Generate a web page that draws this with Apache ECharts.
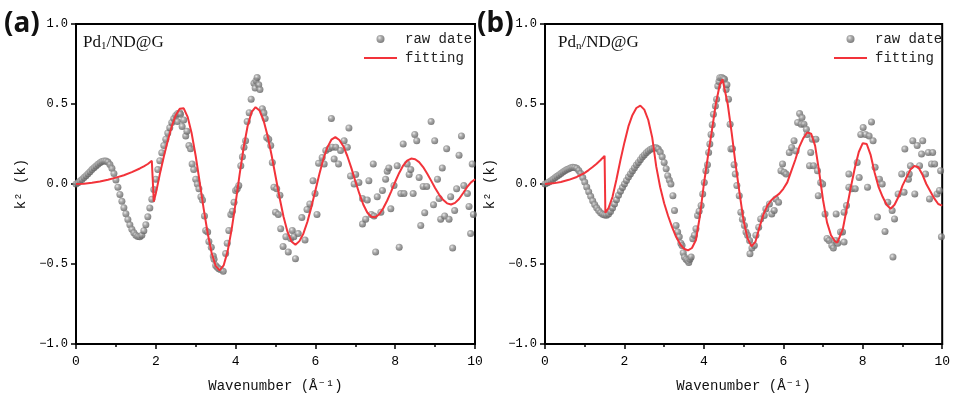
<!DOCTYPE html>
<html>
<head>
<meta charset="utf-8">
<script src="https://cdn.jsdelivr.net/npm/echarts@6/dist/echarts.min.js"></script>
<style>
  html, body { margin: 0; padding: 0; background: #fff; }
  #chart { width: 953px; height: 398px; }
</style>
</head>
<body>
<div id="chart"></div>
<script>
// raw k²χ(k) points, panel (a) Pd1/ND@G  [k, value]
const rawA = [
  [0.00,0.000],[0.05,0.008],[0.10,0.018],[0.15,0.028],[0.20,0.040],[0.25,0.052],[0.30,0.064],[0.35,0.077],
  [0.40,0.090],[0.45,0.102],[0.50,0.113],[0.55,0.124],[0.60,0.133],[0.65,0.140],[0.70,0.144],[0.75,0.143],
  [0.80,0.137],[0.85,0.122],[0.90,0.098],[0.95,0.065],[1.00,0.025],[1.05,-0.020],[1.10,-0.065],[1.15,-0.108],
  [1.20,-0.148],[1.25,-0.186],[1.30,-0.222],[1.35,-0.255],[1.40,-0.283],[1.45,-0.305],[1.50,-0.320],[1.55,-0.328],
  [1.60,-0.330],[1.65,-0.320],[1.70,-0.292],[1.75,-0.255],[1.80,-0.205],[1.85,-0.150],[1.90,-0.095],[1.95,-0.035],
  [2.00,0.030],[2.05,0.090],[2.10,0.145],[2.15,0.195],[2.20,0.240],[2.25,0.280],[2.30,0.318],[2.35,0.352],
  [2.40,0.385],[2.45,0.410],[2.50,0.428],[2.55,0.440],[2.60,0.445],
  [2.54,0.39],[2.62,0.436],[2.66,0.36],[2.70,0.40],[2.75,0.30],[2.78,0.33],[2.83,0.24],[2.87,0.22],
  [2.91,0.125],[2.95,0.09],[3.00,0.03],[3.04,0.00],[3.08,-0.03],[3.13,-0.08],[3.17,-0.10],[3.22,-0.20],
  [3.25,-0.29],[3.30,-0.30],[3.33,-0.36],[3.39,-0.395],[3.44,-0.45],[3.46,-0.47],[3.50,-0.51],[3.54,-0.52],
  [3.58,-0.53],[3.62,-0.535],[3.69,-0.545],[3.75,-0.435],[3.79,-0.37],[3.83,-0.29],[3.88,-0.19],[3.92,-0.17],
  [3.96,-0.114],[4.00,-0.04],[4.04,-0.03],[4.08,-0.01],[4.13,0.114],[4.17,0.17],[4.21,0.23],[4.25,0.27],
  [4.29,0.39],[4.34,0.446],[4.39,0.53],[4.46,0.63],[4.49,0.60],[4.51,0.645],[4.54,0.665],[4.58,0.62],
  [4.61,0.59],[4.67,0.47],[4.71,0.446],[4.74,0.41],[4.78,0.29],[4.83,0.28],[4.88,0.24],[4.92,0.135],
  [4.96,-0.02],[5.00,-0.176],[5.03,-0.03],[5.07,-0.19],[5.11,-0.07],[5.13,-0.28],[5.19,-0.39],[5.26,-0.33],
  [5.32,-0.425],[5.38,-0.34],[5.42,-0.29],[5.46,-0.33],[5.50,-0.467],[5.57,-0.31],[5.66,-0.21],[5.74,-0.35],
  [5.79,-0.16],[5.86,-0.125],[5.94,0.02],[5.99,-0.06],[6.04,-0.19],[6.08,0.13],[6.17,0.166],[6.22,0.125],
  [6.26,0.21],[6.34,0.22],[6.40,0.41],[6.42,0.23],[6.47,0.156],[6.51,0.23],[6.58,0.125],[6.63,0.21],
  [6.72,0.27],[6.80,0.23],[6.84,0.35],[6.88,0.05],[6.97,0.00],[7.01,0.06],[7.09,0.01],[7.18,-0.09],
  [7.18,-0.25],[7.26,-0.22],[7.30,-0.10],[7.34,0.02],[7.40,-0.19],[7.45,0.125],[7.47,-0.20],[7.51,-0.425],
  [7.55,-0.08],[7.64,-0.176],[7.68,-0.04],[7.76,0.03],[7.80,0.08],[7.84,0.10],[7.89,-0.155],[7.97,-0.01],
  [8.05,0.114],[8.10,-0.395],[8.14,-0.06],[8.20,0.25],[8.22,-0.06],[8.30,0.125],[8.35,0.06],[8.39,0.09],
  [8.45,-0.06],[8.49,0.31],[8.54,0.27],[8.60,0.04],[8.64,-0.26],[8.70,-0.015],[8.74,-0.18],[8.79,-0.015],
  [8.90,0.39],[8.96,-0.13],[8.99,0.27],[9.06,0.03],[9.10,-0.09],[9.14,-0.22],[9.18,0.10],[9.24,-0.20],
  [9.29,0.22],[9.35,-0.22],[9.39,-0.08],[9.44,-0.40],[9.49,-0.166],[9.54,-0.03],[9.60,0.18],[9.66,0.30],
  [9.72,-0.01],[9.81,-0.06],[9.85,-0.14],[9.89,-0.31],[9.93,0.125],[9.96,-0.19]
];

// fitted curve, panel (a)
const fitA = [
  [0,0],[0.2,0.002],[0.4,0.008],[0.6,0.016],[0.8,0.027],[1.0,0.04],[1.2,0.055],[1.4,0.074],[1.6,0.097],
  [1.7,0.11],[1.8,0.125],[1.9,0.145],[1.93,0.15],[1.95,-0.11],[2.0,-0.06],[2.1,0.06],[2.2,0.17],[2.3,0.27],
  [2.4,0.36],[2.5,0.43],[2.6,0.47],[2.65,0.48],[2.7,0.473],[2.8,0.418],[2.9,0.315],[3.0,0.175],[3.1,0.012],
  [3.2,-0.155],[3.3,-0.308],[3.4,-0.431],[3.5,-0.512],[3.6,-0.54],[3.7,-0.509],[3.8,-0.421],[3.9,-0.285],
  [4.0,-0.119],[4.1,0.059],[4.2,0.225],[4.3,0.361],[4.4,0.449],[4.5,0.48],[4.6,0.459],[4.7,0.398],[4.8,0.303],
  [4.9,0.183],[5.0,0.05],[5.1,-0.083],[5.2,-0.203],[5.3,-0.298],[5.4,-0.359],[5.5,-0.38],[5.6,-0.357],
  [5.7,-0.309],[5.8,-0.236],[5.9,-0.143],[6.0,-0.04],[6.1,0.063],[6.2,0.156],[6.3,0.229],[6.4,0.277],
  [6.5,0.293],[6.6,0.275],[6.7,0.236],[6.8,0.175],[6.9,0.101],[7.0,0.019],[7.1,-0.059],[7.2,-0.128],
  [7.3,-0.178],[7.4,-0.205],[7.45,-0.208],[7.5,-0.208],[7.6,-0.189],[7.7,-0.152],[7.8,-0.103],[7.9,-0.046],
  [8.0,0.014],[8.1,0.069],[8.2,0.115],[8.3,0.146],[8.4,0.159],[8.5,0.155],[8.6,0.137],[8.7,0.106],[8.8,0.066],
  [8.9,0.021],[9.0,-0.025],[9.1,-0.066],[9.2,-0.099],[9.3,-0.121],[9.4,-0.128],[9.5,-0.118],[9.6,-0.094],
  [9.7,-0.058],[9.8,-0.02],[9.9,0.01],[10.0,0.03]
];

// raw points, panel (b) Pdn/ND@G
const rawB = [
  [0.00,0.000],[0.05,0.006],[0.10,0.013],[0.15,0.021],[0.20,0.030],[0.25,0.039],[0.30,0.048],[0.35,0.057],
  [0.40,0.066],[0.45,0.075],[0.50,0.083],[0.55,0.090],[0.60,0.096],[0.65,0.101],[0.70,0.104],[0.75,0.103],
  [0.80,0.098],[0.85,0.085],[0.90,0.065],[0.95,0.040],[1.00,0.012],[1.05,-0.018],[1.10,-0.048],[1.15,-0.077],
  [1.20,-0.104],[1.25,-0.128],[1.30,-0.149],[1.35,-0.166],[1.40,-0.180],[1.45,-0.189],[1.50,-0.194],[1.55,-0.195],
  [1.60,-0.188],[1.65,-0.172],[1.70,-0.150],[1.75,-0.125],[1.80,-0.098],[1.85,-0.070],[1.90,-0.045],[1.95,-0.022],
  [2.00,0.000],[2.05,0.022],[2.10,0.043],[2.15,0.063],[2.20,0.082],[2.25,0.100],[2.30,0.118],[2.35,0.135],
  [2.40,0.152],[2.45,0.168],[2.50,0.182],[2.55,0.195],[2.60,0.206],[2.65,0.215],[2.70,0.222],[2.75,0.226],
  [2.80,0.226],[2.85,0.218],[2.90,0.200],[2.95,0.170],[3.00,0.135],
  [3.05,0.095],[3.09,0.052],[3.13,0.025],[3.17,0.00],[3.22,-0.073],[3.26,-0.166],[3.30,-0.26],[3.34,-0.30],
  [3.38,-0.33],[3.42,-0.37],[3.45,-0.384],[3.48,-0.43],[3.51,-0.457],[3.55,-0.47],[3.59,-0.478],[3.62,-0.49],
  [3.65,-0.47],[3.68,-0.457],[3.72,-0.342],[3.76,-0.32],[3.80,-0.28],[3.84,-0.197],[3.88,-0.17],[3.93,-0.135],
  [3.97,-0.062],[4.01,0.01],[4.05,0.083],[4.09,0.12],[4.12,0.197],[4.15,0.25],[4.18,0.31],[4.21,0.37],
  [4.24,0.436],[4.29,0.488],[4.32,0.53],[4.35,0.612],[4.38,0.64],[4.40,0.664],[4.45,0.665],[4.49,0.66],
  [4.52,0.654],[4.56,0.59],[4.58,0.62],[4.62,0.53],[4.66,0.374],[4.68,0.218],[4.72,0.22],[4.76,0.12],
  [4.79,0.062],[4.83,-0.01],[4.89,-0.073],[4.93,-0.176],[4.97,-0.22],[5.02,-0.26],[5.06,-0.30],[5.10,-0.32],
  [5.15,-0.353],[5.16,-0.436],[5.21,-0.40],[5.27,-0.384],[5.31,-0.32],[5.38,-0.27],[5.43,-0.218],[5.52,-0.197],
  [5.56,-0.156],[5.65,-0.125],[5.71,-0.187],[5.77,-0.166],[5.81,-0.093],[5.88,-0.114],[5.94,0.083],[5.98,0.125],
  [6.02,0.073],[6.07,0.062],[6.15,0.197],[6.21,0.228],[6.27,0.27],[6.32,0.207],[6.36,0.384],[6.41,0.44],
  [6.45,0.374],[6.47,0.415],[6.52,0.374],[6.58,0.342],[6.60,0.31],[6.66,0.114],[6.69,0.197],[6.73,0.28],
  [6.76,0.114],[6.82,0.28],[6.86,0.083],[6.88,-0.073],[6.94,0.01],[6.99,0.00],[7.05,-0.187],[7.10,-0.34],
  [7.15,-0.353],[7.22,-0.384],[7.26,-0.40],[7.32,-0.353],[7.33,-0.187],[7.37,-0.37],[7.44,-0.30],
  [7.49,-0.30],[7.53,-0.363],[7.53,-0.176],[7.59,-0.135],[7.65,-0.02],[7.65,0.062],[7.72,-0.03],[7.81,-0.03],
  [7.86,0.135],[7.91,0.04],[7.95,0.31],[8.01,0.353],[8.07,0.31],[8.12,-0.02],[8.16,0.30],[8.22,0.388],
  [8.26,0.27],[8.31,0.104],[8.37,-0.207],[8.42,0.03],[8.49,0.00],[8.56,-0.297],[8.63,-0.114],[8.74,-0.166],
  [8.76,-0.457],[8.80,-0.218],[8.89,-0.062],[8.98,0.062],[9.04,-0.052],[9.06,0.218],[9.15,0.03],[9.17,0.062],
  [9.20,0.114],[9.26,0.27],[9.31,-0.062],[9.37,0.24],[9.43,0.114],[9.48,0.187],[9.51,0.27],[9.58,0.062],
  [9.65,0.197],[9.68,-0.093],[9.73,0.125],[9.76,0.197],[9.81,0.125],[9.87,-0.062],[9.93,-0.04],[9.96,0.083],
  [9.98,-0.33]
];

// fitted curve, panel (b)
const fitB = [
  [0,0],[0.2,0.004],[0.4,0.013],[0.6,0.026],[0.8,0.044],[1.0,0.07],[1.1,0.087],[1.2,0.106],[1.3,0.127],
  [1.4,0.15],[1.5,0.176],[1.52,-0.18],[1.6,-0.15],[1.7,-0.08],[1.8,0.03],[1.9,0.15],[2.0,0.26],[2.1,0.36],
  [2.2,0.43],[2.3,0.475],[2.4,0.49],[2.5,0.465],[2.6,0.40],[2.7,0.29],[2.8,0.11],[2.9,-0.02],[3.0,-0.12],
  [3.1,-0.2],[3.2,-0.27],[3.3,-0.33],[3.4,-0.375],[3.5,-0.405],[3.6,-0.415],[3.7,-0.40],[3.8,-0.35],
  [3.9,-0.2],[4.0,0.0],[4.1,0.17],[4.2,0.33],[4.3,0.5],[4.4,0.62],[4.47,0.655],[4.5,0.65],[4.6,0.5],
  [4.7,0.32],[4.8,0.12],[4.9,-0.06],[5.0,-0.23],[5.1,-0.34],[5.2,-0.39],[5.23,-0.395],[5.3,-0.36],
  [5.4,-0.27],[5.5,-0.19],[5.6,-0.135],[5.7,-0.10],[5.8,-0.08],[5.9,-0.06],[6.0,-0.03],[6.1,0.01],
  [6.2,0.08],[6.3,0.15],[6.4,0.23],[6.5,0.285],[6.6,0.322],[6.65,0.326],[6.7,0.315],[6.8,0.24],[6.9,0.08],
  [7.0,-0.1],[7.1,-0.24],[7.2,-0.32],[7.3,-0.358],[7.36,-0.367],[7.4,-0.355],[7.5,-0.28],[7.6,-0.15],
  [7.7,-0.02],[7.8,0.1],[7.9,0.2],[8.0,0.255],[8.05,0.263],[8.1,0.25],[8.2,0.18],[8.3,0.07],[8.4,-0.02],
  [8.5,-0.08],[8.6,-0.13],[8.7,-0.155],[8.8,-0.13],[8.9,-0.08],[9.0,-0.01],[9.1,0.04],[9.2,0.09],
  [9.3,0.112],[9.35,0.114],[9.4,0.105],[9.5,0.06],[9.6,0.0],[9.7,-0.045],[9.8,-0.09],[9.9,-0.125],[10.0,-0.135]
];

const seriesNames = ['raw date', 'fitting'];
const xTitle = 'Wavenumber (Å\u207B\u00B9)';
const yTitle = 'k\u00B2 (k)';

const MONO = '"Liberation Mono", "DejaVu Sans Mono", monospace';
const RED = '#f2333a';

const chart = echarts.init(document.getElementById('chart'));

// shaded grey ball for the raw points
const ball = new echarts.graphic.RadialGradient(0.38, 0.35, 0.65, [
  { offset: 0, color: '#e6e6e6' },
  { offset: 0.4, color: '#969696' },
  { offset: 1, color: '#5e5e5e' }
]);

const makeX = (gi) => ({
  type: 'value',
  gridIndex: gi,
  min: 0,
  max: 10,
  interval: 2,
  name: xTitle,
  nameLocation: 'middle',
  nameGap: 35,
  nameTextStyle: { fontFamily: MONO, fontSize: 14, color: '#111' },
  axisLine: { show: true, onZero: false, lineStyle: { color: '#000', width: 2 } },
  axisTick: { show: true, length: 5, lineStyle: { color: '#000', width: 1.5 } },
  minorTick: { show: true, splitNumber: 2, length: 3, lineStyle: { color: '#000', width: 1.5 } },
  splitLine: { show: false },
  axisLabel: { fontFamily: MONO, fontSize: 13, color: '#000', margin: 11 }
});

const makeY = (gi) => ({
  type: 'value',
  gridIndex: gi,
  min: -1,
  max: 1,
  interval: 0.5,
  name: yTitle,
  nameLocation: 'middle',
  nameRotate: 90,
  nameGap: 48,
  nameTextStyle: { fontFamily: MONO, fontSize: 14, color: '#111' },
  axisLine: { show: true, onZero: false, lineStyle: { color: '#000', width: 2 } },
  axisTick: { show: true, length: 5, lineStyle: { color: '#000', width: 1.5 } },
  splitLine: { show: false },
  axisLabel: {
    fontFamily: MONO, fontSize: 12, color: '#000', margin: 8,
    formatter: (v) => v.toFixed(1).replace('-', '\u2212')
  }
});

const makeLegend = (left) => ({
  left: left,
  top: 27,
  orient: 'vertical',
  data: [
    { name: seriesNames[0], icon: 'circle' },
    { name: seriesNames[1], itemStyle: { opacity: 0 } }
  ],
  itemWidth: 33,
  itemHeight: 8,
  itemGap: 5,
  textStyle: { fontFamily: MONO, fontSize: 14, color: '#222', padding: [0, 0, 0, 3] }
});

const scatterSeries = (name, xi, data) => ({
  name: name,
  type: 'scatter',
  xAxisIndex: xi,
  yAxisIndex: xi,
  data: data,
  symbolSize: 7,
  itemStyle: { color: ball },
  z: 2
});

const lineSeries = (name, xi, data) => ({
  name: name,
  type: 'line',
  xAxisIndex: xi,
  yAxisIndex: xi,
  data: data,
  symbol: 'none',
  smooth: false,
  lineStyle: { color: RED, width: 2 },
  itemStyle: { color: RED },
  z: 3
});

const labelText = (left, top, sub) => ({
  type: 'text',
  left: left,
  top: top,
  style: {
    text: '{a|Pd}{s|' + sub + '}{a|/ND@G}',
    rich: {
      a: { fontFamily: '"Liberation Serif", "DejaVu Serif", serif', fontSize: 17, fill: '#111' },
      s: { fontFamily: '"Liberation Serif", "DejaVu Serif", serif', fontSize: 11, fill: '#111', padding: [8, 0, 0, 0] }
    }
  }
});

const panelTag = (left, txt) => ({
  type: 'text',
  left: left,
  top: 10,
  style: {
    text: txt,
    fontFamily: '"Noto Sans", "Open Sans", sans-serif',
    fontWeight: 'bold',
    fontSize: 28,
    fill: '#111'
  }
});

chart.setOption({
  animation: false,
  backgroundColor: '#fff',
  grid: [
    { left: 76, top: 24, width: 399, height: 321, show: true, borderColor: '#000', borderWidth: 2, backgroundColor: 'transparent' },
    { left: 545, top: 24, width: 398, height: 321, show: true, borderColor: '#000', borderWidth: 2, backgroundColor: 'transparent' }
  ],
  xAxis: [makeX(0), makeX(1)],
  yAxis: [makeY(0), makeY(1)],
  legend: [makeLegend(358), makeLegend(828)],
  series: [
    scatterSeries(seriesNames[0], 0, rawA),
    lineSeries(seriesNames[1], 0, fitA),
    scatterSeries(seriesNames[0], 1, rawB),
    lineSeries(seriesNames[1], 1, fitB)
  ],
  graphic: [
    panelTag(4, '(a)'),
    panelTag(477, '(b)'),
    labelText(83, 34, '1'),
    labelText(558, 34, 'n')
  ]
});
</script>
</body>
</html>
